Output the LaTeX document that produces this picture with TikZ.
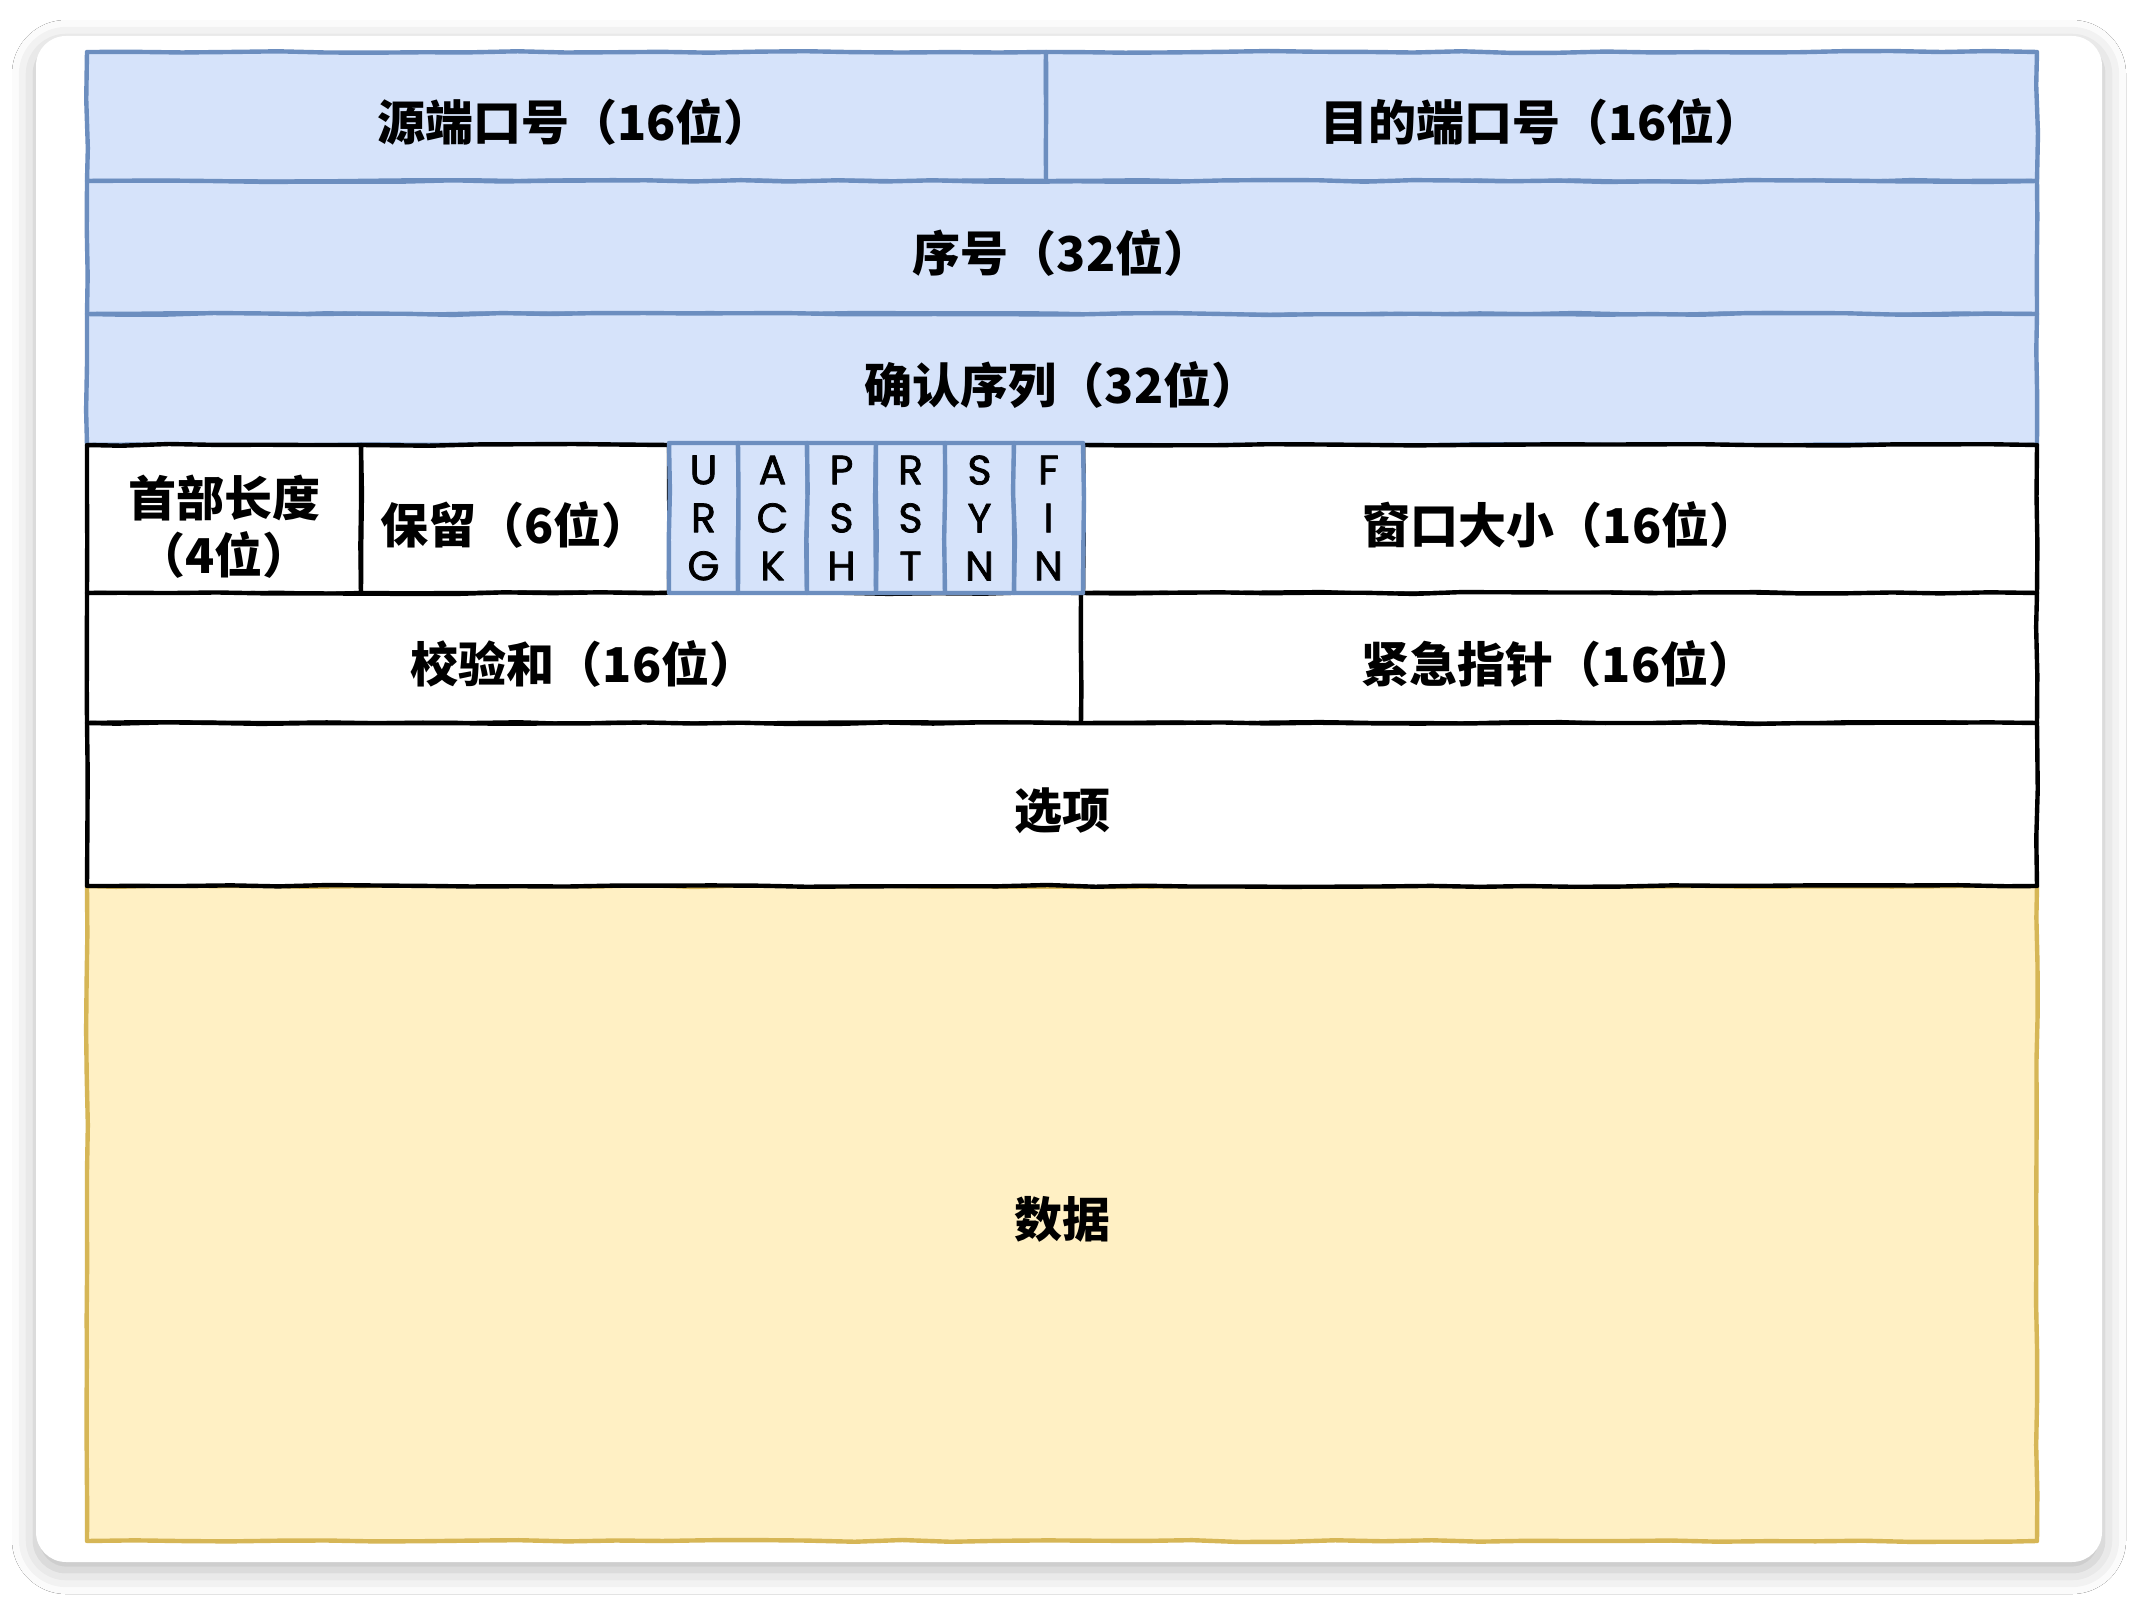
\documentclass[tikz,border=0pt]{standalone}
\usepackage{fontspec}
\newfontfamily\cjk{Noto Sans CJK SC}
\newfontfamily\flagfont{Poppins}[FakeBold=1.8]
\usetikzlibrary{decorations.pathmorphing,shadows.blur}
\definecolor{bluefill}{HTML}{D6E3FA}
\definecolor{bluestroke}{HTML}{6C8EBF}
\definecolor{yelfill}{HTML}{FFF0C4}
\definecolor{yelstroke}{HTML}{D6B656}
\tikzset{
  sketch/.style={decorate,decoration={random steps,segment length=24pt,amplitude=0.5pt}},
  cellbase/.style={inner sep=0pt,line width=2.2pt,line join=round,sketch,rectangle},
  bluecell/.style={cellbase,draw=bluestroke,fill=bluefill},
  whitecell/.style={cellbase,draw=black,fill=white},
  yelcell/.style={cellbase,draw=yelstroke,fill=yelfill},
  every label/.style={inner sep=0pt,align=center,yshift=-3pt,
    font=\cjk\bfseries\fontsize{24}{28.5}\selectfont},
  flagcell/.style={cellbase,draw=bluestroke,fill=bluefill,align=center,
    minimum width=34.5pt,minimum height=75pt,
    font=\flagfont\fontsize{20.5}{24}\selectfont},
  card/.style={inner sep=0pt,fill=white,rounded corners=15pt,
    minimum width=1033pt,minimum height=763pt,
    blur shadow={shadow xshift=0pt,shadow yshift=-4pt,shadow blur radius=12pt,shadow opacity=28}}
}
\begin{document}
\begin{tikzpicture}[x=0.5pt,y=-0.5pt]
\pgfmathsetseed{11}
\fill[white] (0,0) rectangle (2138,1598);
\useasboundingbox (0,0) rectangle (2138,1598);
\node[card] (card) at (1069,799) {};
% blue rows
\node[bluecell,minimum width=479.5pt,minimum height=64.5pt,label={[xshift=4pt]center:源端口号（16位）}] (src) at (566.5,116.5) {};
\node[bluecell,minimum width=495.5pt,minimum height=64.5pt,label=center:目的端口号（16位）] (dst) at (1541.5,116.5) {};
\node[bluecell,minimum width=975pt,minimum height=66.5pt,label=center:序号（32位）] (seq) at (1062,247.5) {};
\node[bluecell,minimum width=975pt,minimum height=65.5pt,label=center:确认序列（32位）] (ackn) at (1062,379.5) {};
% data
\node[yelcell,minimum width=975pt,minimum height=327.5pt,label=center:数据] (data) at (1062,1213.5) {};
% white rows
\node[whitecell,minimum width=137pt,minimum height=74pt,label={[yshift=-1pt]center:首部长度\\（4位）}] (hlen) at (224,519) {};
\node[whitecell,minimum width=154pt,minimum height=74pt,label=center:保留（6位）] (resv) at (515,519) {};
\node[whitecell,minimum width=477pt,minimum height=74pt,label=center:窗口大小（16位）] (win) at (1560,519) {};
\node[whitecell,minimum width=497pt,minimum height=65pt,label=center:校验和（16位）] (csum) at (584,658) {};
\node[whitecell,minimum width=478pt,minimum height=65pt,label=center:紧急指针（16位）] (urgp) at (1559,658) {};
\node[whitecell,minimum width=975pt,minimum height=81.5pt,label=center:选项] (opt) at (1062,804.5) {};
% flags
\node[flagcell] (urg) at (703.5,518) {U\\R\\G};
\node[flagcell] (ack) at (772.5,518) {A\\C\\K};
\node[flagcell] (psh) at (841.5,518) {P\\S\\H};
\node[flagcell] (rst) at (910.5,518) {R\\S\\T};
\node[flagcell] (syn) at (979.5,518) {S\\Y\\N};
\node[flagcell] (fin) at (1048.5,518) {F\\I\\N};
\end{tikzpicture}
\end{document}
